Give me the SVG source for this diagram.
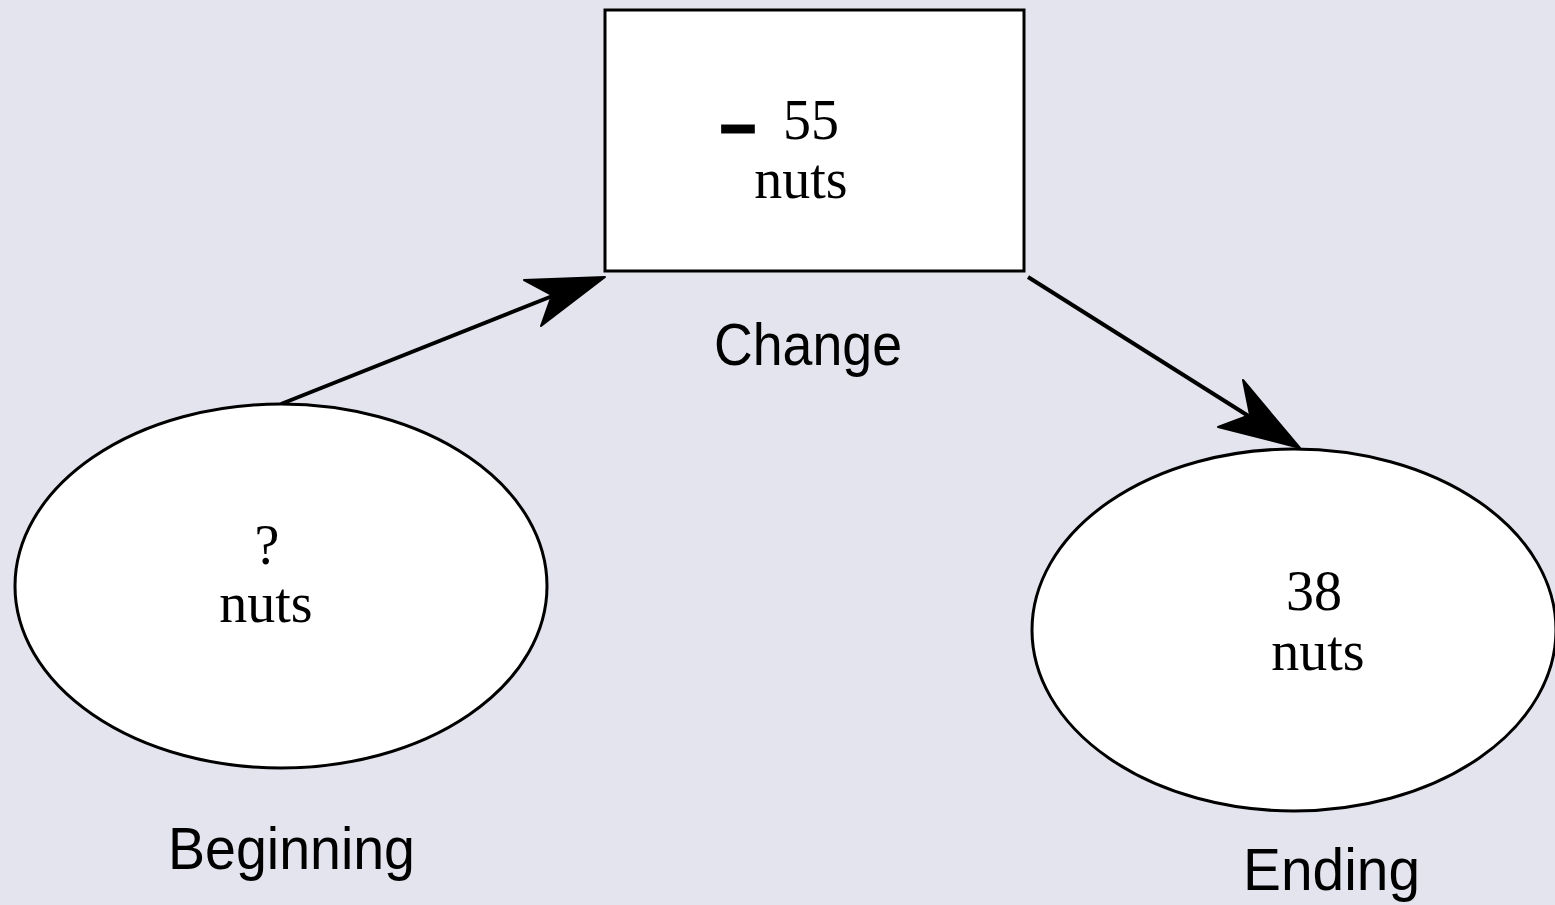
<svg xmlns="http://www.w3.org/2000/svg" width="1555" height="905" viewBox="0 0 1555 905">
  <style>
    .shape { fill: #ffffff; stroke: #000000; stroke-width: 3; }
    .val { font-family: "Liberation Serif", "Times New Roman", serif; font-size: 56px; fill: #000; text-anchor: middle; }
    .sign { font-family: "Liberation Sans", Arial, sans-serif; font-size: 62px; font-weight: bold; fill: #000; stroke: #000; stroke-width: 3; text-anchor: middle; }
    .lbl { font-family: "Liberation Sans", Arial, sans-serif; font-size: 60px; fill: #000; }
    .edge { stroke: #000; stroke-width: 4; fill: none; }
    .head { fill: #000; stroke: #000; stroke-width: 2; stroke-linejoin: round; }
  </style>
  <rect width="1555" height="905" fill="#e4e4ee"/>

  <g id="connectors">
    <line class="edge" x1="281" y1="404" x2="560" y2="293"/>
    <polygon class="head" points="605,277 524,280 552,295 541,326"/>
    <line class="edge" x1="1028" y1="277" x2="1258" y2="422"/>
    <polygon class="head" points="1300,448 1218,427 1250,415 1243,380"/>
  </g>

  <g id="change">
    <rect class="shape" x="605" y="10" width="419" height="261"/>
    <text class="sign" x="738" y="145">–</text>
    <text class="val" x="811" y="139">55</text>
    <text class="val" x="801" y="198">nuts</text>
    <text class="lbl" x="714" y="365" textLength="188" lengthAdjust="spacingAndGlyphs">Change</text>
  </g>

  <g id="beginning">
    <ellipse class="shape" cx="281" cy="586" rx="266" ry="182"/>
    <text class="val" x="267" y="564">?</text>
    <text class="val" x="266" y="622">nuts</text>
    <text class="lbl" x="168" y="869" textLength="247" lengthAdjust="spacingAndGlyphs">Beginning</text>
  </g>

  <g id="ending">
    <ellipse class="shape" cx="1294" cy="630" rx="262" ry="181"/>
    <text class="val" x="1314" y="610">38</text>
    <text class="val" x="1318" y="670">nuts</text>
    <text class="lbl" x="1243" y="890" textLength="177" lengthAdjust="spacingAndGlyphs">Ending</text>
  </g>
</svg>
